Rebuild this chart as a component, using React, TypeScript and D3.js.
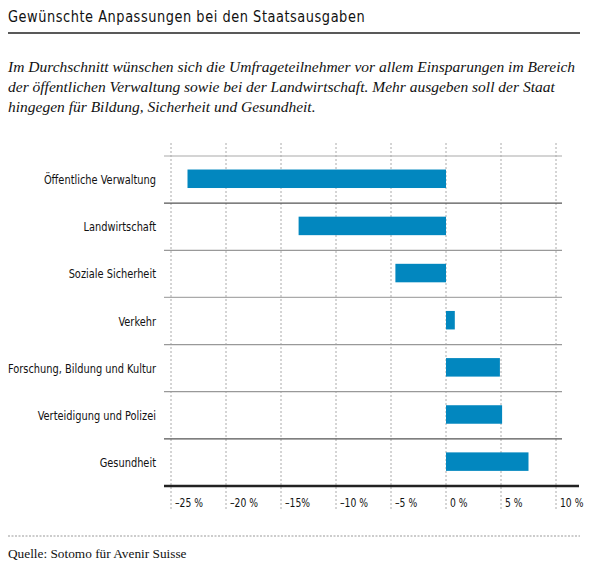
import React from "react";
import * as d3 from "d3";

// Kategorien und gewünschte Veränderung der Ausgaben (in %)
const categories = [
  "Öffentliche Verwaltung",
  "Landwirtschaft",
  "Soziale Sicherheit",
  "Verkehr",
  "Forschung, Bildung und Kultur",
  "Verteidigung und Polizei",
  "Gesundheit",
];
const values = [-23.5, -13.4, -4.6, 0.8, 4.9, 5.1, 7.5];

const tickValues = [-25, -20, -15, -10, -5, 0, 5, 10];
const tickLabels = ["–25 %", "–20 %", "–15%", "–10 %", "–5 %", "0 %", "5 %", "10 %"];

const title = "Gewünschte Anpassungen bei den Staatsausgaben";
const subtitleLines = [
  "Im Durchschnitt wünschen sich die Umfrageteilnehmer vor allem Einsparungen im Bereich",
  "der öffentlichen Verwaltung sowie bei der Landwirtschaft. Mehr ausgeben soll der Staat",
  "hingegen für Bildung, Sicherheit und Gesundheit.",
];
const source = "Quelle: Sotomo für Avenir Suisse";

const W = 600;
const H = 566;
const SANS = "'DejaVu Sans Condensed', 'DejaVu Sans', sans-serif";
const SERIF = "'Liberation Serif', 'DejaVu Serif', serif";
const BAR = "#0287bf";

export default function App() {
  const x = d3.scaleLinear().domain([-25, 10]).range([171, 556]);
  const y = d3.scaleBand<string>().domain(categories).range([156, 486]);
  const barH = 18.5;
  const sepColors = ["#aaa", "#555", "#999", "#aaa", "#999", "#999", "#555"];

  return (
    <svg
      width={W}
      height={H}
      style={{ position: "absolute", left: 0, top: 0, background: "#fff" }}
    >
      {/* Titel */}
      <text
        transform="translate(8,22) scale(0.9,1)"
        fontFamily={SANS}
        fontSize={16}
        letterSpacing={0.6}
        fill="#111"
      >
        {title}
      </text>
      <line x1={8} x2={580} y1={33} y2={33} stroke="#222" strokeWidth={1.6} />

      {/* Untertitel */}
      {subtitleLines.map((t, i) => (
        <text
          key={i}
          x={8}
          y={72 + i * 20}
          fontFamily={SERIF}
          fontStyle="italic"
          fontSize={15.5}
          fill="#111"
        >
          {t}
        </text>
      ))}

      {/* vertikale Rasterlinien */}
      {tickValues.map((v) => (
        <line
          key={"g" + v}
          x1={x(v)}
          x2={x(v)}
          y1={143}
          y2={511}
          stroke="#aaa"
          strokeWidth={1}
          strokeDasharray="2,2"
        />
      ))}

      {/* Trennlinien zwischen den Kategorien */}
      {categories.map((c, i) => (
        <line
          key={"s" + c}
          x1={164}
          x2={562}
          y1={y(c)!}
          y2={y(c)!}
          stroke={sepColors[i]}
          strokeWidth={1.2}
        />
      ))}

      {/* Balken */}
      {categories.map((c, i) => {
        const v = values[i];
        const x0 = x(Math.min(0, v));
        const x1 = x(Math.max(0, v));
        return (
          <rect
            key={"b" + c}
            x={x0}
            y={y(c)! + y.bandwidth() / 2 - barH / 2 - 0.8}
            width={x1 - x0}
            height={barH}
            fill={BAR}
          />
        );
      })}

      {/* Kategorienbeschriftung */}
      {categories.map((c) => (
        <text
          key={"l" + c}
          transform={`translate(156,${y(c)! + y.bandwidth() / 2}) scale(0.84,1)`}
          dy="0.35em"
          textAnchor="end"
          fontFamily={SANS}
          fontSize={13}
          fill="#111"
        >
          {c}
        </text>
      ))}

      {/* x-Achse */}
      <line x1={164} x2={579} y1={486} y2={486} stroke="#222" strokeWidth={2.5} />
      {tickValues.map((v, i) => (
        <text
          key={"t" + v}
          transform={`translate(${x(v) + 4},507) scale(0.82,1)`}
          fontFamily={SANS}
          fontSize={12.5}
          fill="#111"
        >
          {tickLabels[i]}
        </text>
      ))}

      {/* Quelle */}
      <line
        x1={8}
        x2={580}
        y1={536}
        y2={536}
        stroke="#999"
        strokeWidth={1}
        strokeDasharray="2,1.5"
      />
      <text x={8} y={558} fontFamily={SERIF} fontSize={13.3} fill="#111">
        {source}
      </text>
    </svg>
  );
}
